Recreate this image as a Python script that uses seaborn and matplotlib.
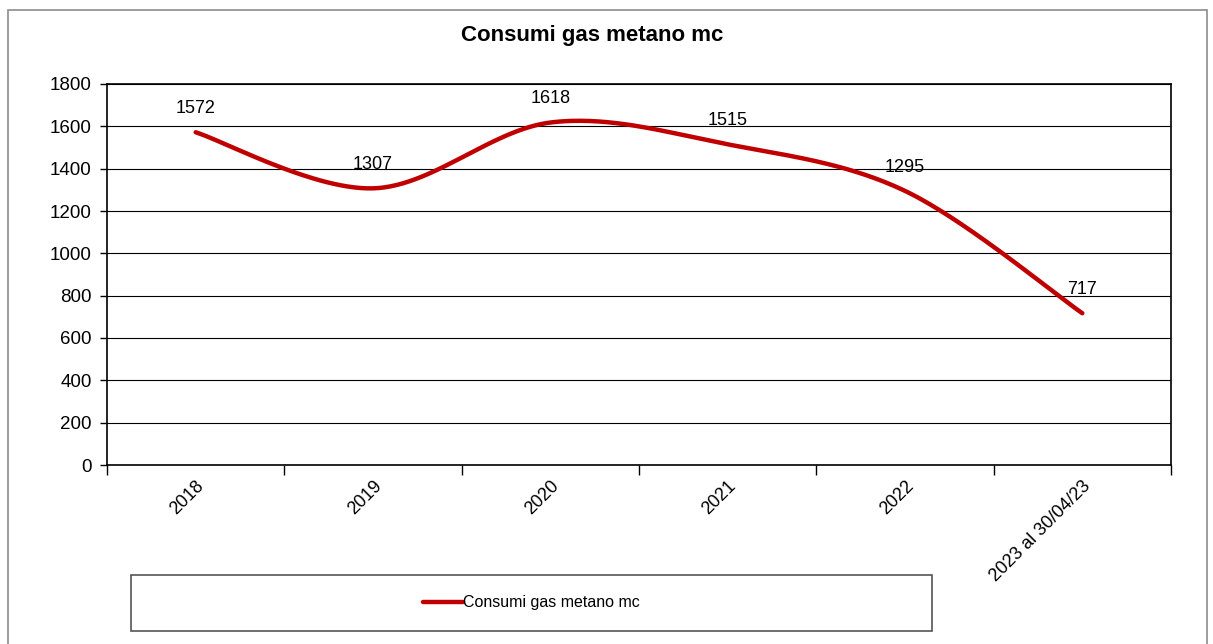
import numpy as np
import matplotlib
matplotlib.use("Agg")
import matplotlib.pyplot as plt
import seaborn as sns
from matplotlib.patches import Rectangle

categories = ["2018", "2019", "2020", "2021", "2022", "2023 al 30/04/23"]
values = [1572, 1307, 1618, 1515, 1295, 717]
series_name = "Consumi gas metano mc"
title = "Consumi gas metano mc"
yticks = list(range(0, 1801, 200))

sns.set_theme(style="white")
plt.rcParams["font.family"] = ["Liberation Sans", "DejaVu Sans"]
plt.rcParams["text.color"] = "black"
plt.rcParams["xtick.color"] = "black"
plt.rcParams["ytick.color"] = "black"

W, H = 1213, 644
fig = plt.figure(figsize=(W / 100, H / 100), dpi=100)
ax = fig.add_axes([107 / W, 1 - 465 / H, (1171 - 107) / W, (465 - 84) / H])

# Excel-style smoothed line (Catmull-Rom Bezier through the data points)
x = np.arange(len(values), dtype=float)
y = np.array(values, dtype=float)
px = np.concatenate([[x[0]], x, [x[-1]]])
py = np.concatenate([[y[0]], y, [y[-1]]])
t = np.linspace(0, 1, 60)
xs, ys = [], []
for i in range(len(x) - 1):
    p0 = np.array([px[i], py[i]])
    p1 = np.array([px[i + 1], py[i + 1]])
    p2 = np.array([px[i + 2], py[i + 2]])
    p3 = np.array([px[i + 3], py[i + 3]])
    c1 = p1 + (p2 - p0) / 6
    c2 = p2 - (p3 - p1) / 6
    b = ((1 - t) ** 3)[:, None] * p1 + (3 * (1 - t) ** 2 * t)[:, None] * c1 \
        + (3 * (1 - t) * t ** 2)[:, None] * c2 + (t ** 3)[:, None] * p2
    xs.extend(b[:, 0]); ys.extend(b[:, 1])

sns.lineplot(x=xs, y=ys, sort=False, ax=ax, color="#C00000", linewidth=3.2,
             label=series_name, legend=False, solid_capstyle="round")

for xi, v in zip(x, values):
    ax.annotate(str(v), (xi, v), xytext=(0, 17), textcoords="offset points",
                ha="center", va="center", fontsize=13, color="black")

ax.set_xlim(-0.5, len(values) - 0.5)
ax.set_ylim(0, 1800)
ax.set_yticks(yticks)
ax.set_yticklabels([str(v) for v in yticks], fontsize=13.5)
ax.grid(axis="y", color="black", linewidth=0.8)
ax.set_axisbelow(True)
for s in ax.spines.values():
    s.set_color("black")
    s.set_linewidth(1.2)
ax.set_xticks(np.arange(-0.5, len(values), 1.0))
ax.set_xticklabels([])
ax.set_xticks(x, minor=True)
ax.set_xticklabels(categories, minor=True, rotation=45, ha="right",
                   rotation_mode="anchor", fontsize=13)
ax.tick_params(axis="x", which="major", direction="out", length=7, width=1, color="black", bottom=True)
ax.tick_params(axis="x", which="minor", length=0, pad=9, bottom=True)
ax.tick_params(axis="y", direction="out", length=5, width=1, color="black", pad=6, left=True)
ax.set_xlabel(""); ax.set_ylabel("")

fig.text(592 / W, 1 - 35 / H, title, ha="center", va="center",
         fontsize=16, fontweight="bold", color="black")

# outer chart border
fig.patches.append(Rectangle((8 / W, -0.05), (1207 - 8) / W, 1.05 - 10 / H,
                             transform=fig.transFigure, fill=False,
                             edgecolor="#8c8c8c", linewidth=1.2, clip_on=False))
# legend box
lx0, lx1, ly0, ly1 = 131, 932, 575, 631
fig.patches.append(Rectangle((lx0 / W, 1 - ly1 / H), (lx1 - lx0) / W, (ly1 - ly0) / H,
                             transform=fig.transFigure, fill=False,
                             edgecolor="#555555", linewidth=1.2))
handles, labels = ax.get_legend_handles_labels()
fig.legend(handles, labels, loc="center",
           bbox_to_anchor=((lx0 + lx1) / 2 / W, 1 - (ly0 + ly1) / 2 / H),
           frameon=False, fontsize=11.5, handlelength=2.5, handletextpad=0.05,
           labelcolor="black")

fig.savefig("out.png", dpi=100)
